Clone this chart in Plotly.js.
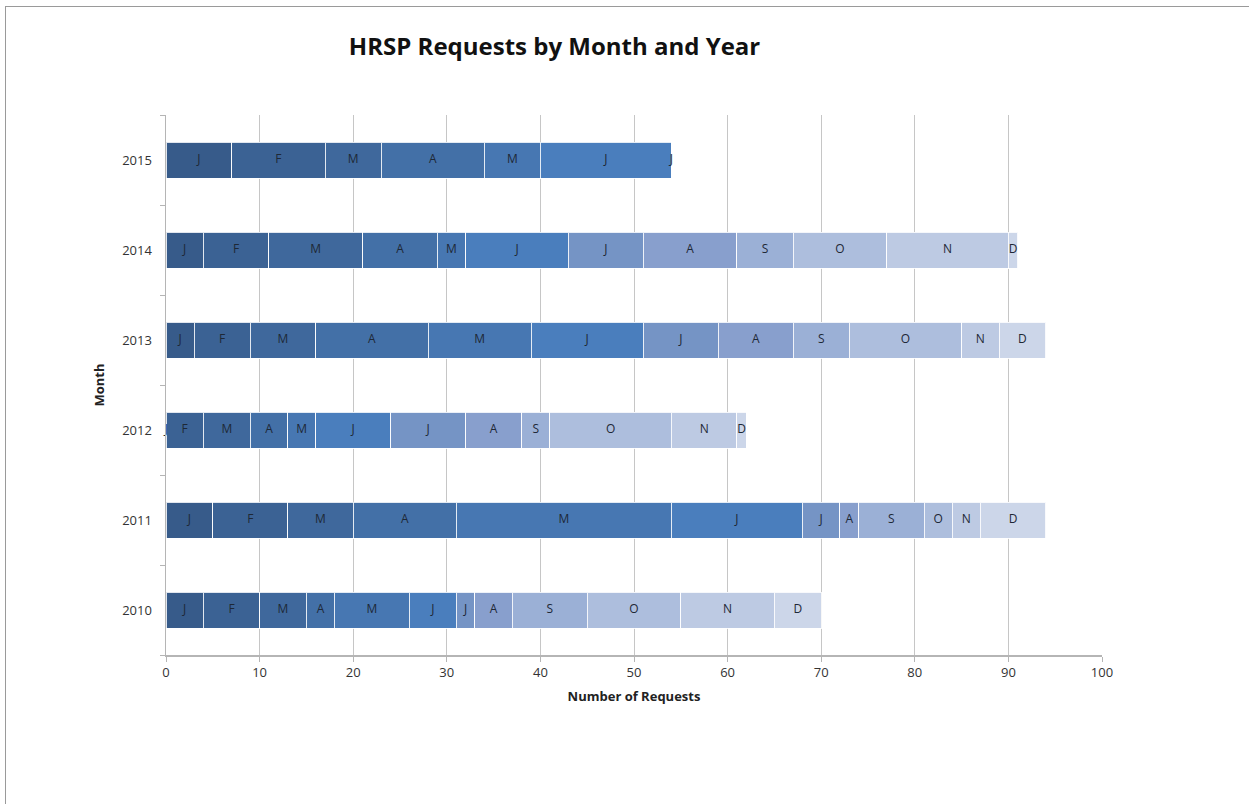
<!DOCTYPE html>
<html>
<head>
<meta charset="utf-8">
<script src="https://cdn.plot.ly/plotly-3.0.1.min.js"></script>
<style>
  html, body { margin: 0; padding: 0; background: #fff; }
  #frame { position: absolute; left: 5px; top: 6px; width: 1300px; height: 900px;
           border-left: 1.5px solid #9a9a9a; border-top: 1.5px solid #9a9a9a; pointer-events: none; }
  #chart { width: 1249px; height: 804px; }
</style>
</head>
<body>
<div id="chart"></div>
<div id="frame"></div>
<script>
// ---- data ----
const years = ['2010', '2011', '2012', '2013', '2014', '2015'];
const monthLabels = ['J', 'F', 'M', 'A', 'M', 'J', 'J', 'A', 'S', 'O', 'N', 'D'];
const monthNames = ['Jan', 'Feb', 'Mar', 'Apr', 'May', 'Jun', 'Jul', 'Aug', 'Sep', 'Oct', 'Nov', 'Dec'];
const y2010 = [4, 6, 5, 3, 8, 5, 2, 4, 8, 10, 10, 5];
const y2011 = [5, 8, 7, 11, 23, 14, 4, 2, 7, 3, 3, 7];
const y2012 = [0, 4, 5, 4, 3, 8, 8, 6, 3, 13, 7, 1];
const y2013 = [3, 6, 7, 12, 11, 12, 8, 8, 6, 12, 4, 5];
const y2014 = [4, 7, 10, 8, 3, 11, 8, 10, 6, 10, 13, 1];
const y2015 = [7, 10, 6, 11, 6, 14, 0];
const monthColors = ['#375b8a', '#3b6294', '#3f689c', '#4370a7', '#4777b2', '#4a7ebd',
                     '#7594c5', '#889fcd', '#9bb0d6', '#adbedd', '#bdcae3', '#ccd6e9'];

const byYear = [y2010, y2011, y2012, y2013, y2014, y2015];
const traces = [];

for (let m = 0; m < 12; m++) {
  const xs = [], ys = [];
  byYear.forEach((arr, i) => {
    if (m < arr.length) { xs.push(arr[m]); ys.push(years[i]); }
  });
  traces.push({
    type: 'bar', orientation: 'h', name: monthNames[m],
    x: xs, y: ys,
    marker: { color: monthColors[m], line: { color: 'rgba(255,255,255,0.85)', width: 1 } },
    hoverinfo: 'x+y+name', showlegend: false
  });
}

// labels at segment midpoints computed from the data
const lx = [], ly = [], lt = [];
byYear.forEach((arr, i) => {
  let cum = 0;
  arr.forEach((v, m) => {
    lx.push(cum + v / 2); ly.push(years[i]); lt.push(monthLabels[m]);
    cum += v;
  });
});
traces.push({
  type: 'scatter', mode: 'text', x: lx, y: ly, text: lt,
  textfont: { family: 'Open Sans, sans-serif', size: 12, color: '#1e2836' },
  hoverinfo: 'skip', showlegend: false, cliponaxis: false
});

const layout = {
  width: 1249, height: 804,
  margin: { l: 166, r: 147, t: 115, b: 149 },
  paper_bgcolor: '#ffffff', plot_bgcolor: '#ffffff',
  barmode: 'stack', bargap: 0.6,
  font: { family: 'Open Sans, sans-serif', color: '#333333' },
  title: {
    text: '<b>HRSP Requests by Month and Year</b>',
    font: { family: 'Open Sans, sans-serif', size: 24, color: '#111111' },
    x: 0.444, xref: 'container', xanchor: 'center',
    y: 1 - 47 / 804, yref: 'container', yanchor: 'middle'
  },
  xaxis: {
    range: [0, 100], dtick: 10, tick0: 0,
    showgrid: true, gridcolor: '#c6c6c6', gridwidth: 1,
    showline: true, linecolor: '#b5b5b5', linewidth: 1.5,
    ticks: 'outside', ticklen: 5, tickcolor: '#b5b5b5',
    tickfont: { size: 13, color: '#333333' },
    zeroline: false, fixedrange: true,
    title: { text: '<b>Number of Requests</b>', font: { size: 13, color: '#222222' }, standoff: 12 }
  },
  yaxis: {
    type: 'category', categoryorder: 'array', categoryarray: years,
    showgrid: false, showline: true, linecolor: '#b5b5b5', linewidth: 1.5,
    ticks: 'outside', ticklen: 5, tickcolor: '#b5b5b5', tickson: 'boundaries',
    tickfont: { size: 13, color: '#333333' }, ticklabelstandoff: 10,
    zeroline: false, fixedrange: true,
    title: { text: '<b>Month</b>', font: { size: 13, color: '#222222' }, standoff: 14 }
  }
};

Plotly.newPlot('chart', traces, layout, { displayModeBar: false, staticPlot: true });
</script>
</body>
</html>
